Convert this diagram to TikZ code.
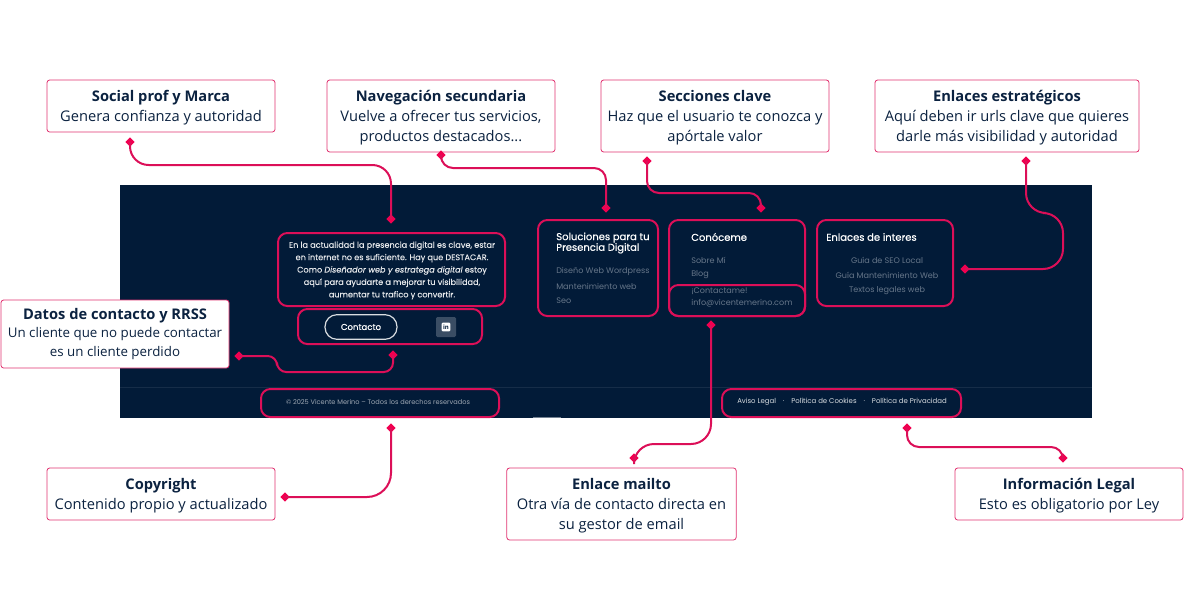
\documentclass[tikz,border=0pt]{standalone}
\usepackage{fontspec}
\setmainfont{Open Sans}
\newfontfamily\pop{Poppins}[FakeBold=0.1]
\newfontfamily\poph{Poppins}[FakeBold=0.5]
\newfontfamily\pops{Poppins}
\usetikzlibrary{shapes.geometric}
\definecolor{panel}{HTML}{021B38}
\definecolor{ink}{HTML}{0B2240}
\definecolor{pinkline}{HTML}{DC0F58}
\definecolor{pinktip}{HTML}{F00050}
\definecolor{muted}{HTML}{667689}
\newcommand{\ctitle}[1]{\rule{0pt}{11pt}\textbf{#1}}
\tikzset{
  callout/.style={draw=pinkline!85,line width=.6pt,fill=white,rounded corners=2pt,text=ink,
    align=center,inner sep=0pt,font=\fontsize{11}{15}\selectfont},
  zone/.style={draw=pinkline,line width=1.5pt,rounded corners=7pt,inner sep=0pt},
  tip/.style={diamond,fill=pinktip,inner sep=0pt,minimum size=7pt},
  link/.style={draw=pinkline,line width=1.5pt,rounded corners=14pt},
  foot/.style={text=white!90!panel,font=\pop\fontsize{6.1}{9.3}\selectfont,align=center,inner sep=0pt},
  head/.style={text=white,font=\poph\fontsize{7.5}{8}\selectfont,align=left,anchor=west,inner sep=0pt},
  soft/.style={text=muted,font=\pops\fontsize{6.05}{11.4}\selectfont,inner sep=0pt}
}
\begin{document}
\begin{tikzpicture}[x=.75pt,y=-.75pt]
  \useasboundingbox (0,0) rectangle (1200,600);
  % footer panel
  \fill[panel] (120,185) rectangle (1092,418);
  \draw[white!8!panel,line width=.6pt] (120,387) -- (1092,387);
  \fill[white!45!panel] (533,416.5) rectangle (561,418);

  % footer content
  \node[foot] (about) at (392,270.5) {En la actualidad la presencia digital es clave, estar\\
    en internet no es suficiente. Hay que DESTACAR.\\
    Como \textit{Diseñador web y estratega digital} estoy\\
    aquí para ayudarte a mejorar tu visibilidad,\\
    aumentar tu trafico y convertir.};
  \node[draw=white!85!panel,line width=.9pt,rounded corners=9pt,minimum width=54pt,minimum height=18.5pt,
    text=white,inner sep=0pt,font=\poph\fontsize{6.4}{8}\selectfont] (btn) at (361,327) {Contacto};
  \node[fill=white!22!panel,minimum size=15pt,rounded corners=1pt,inner sep=0pt] (lnk) at (446,327) {};
  \node[fill=white,rounded corners=.8pt,minimum size=6.5pt,inner sep=0pt,text=panel,
    font=\bfseries\fontsize{4.5}{5}\selectfont] (lnkin) at (lnk) {in};
  \node[foot,text=white!62!panel,font=\pops\fontsize{4.95}{6}\selectfont] (copy) at (378,402)
    {© 2025 Vicente Merino – Todos los derechos reservados};
  \node[foot,text=white!85!panel,font=\pops\fontsize{5.22}{6}\selectfont,anchor=west] (legal) at (737,402)
    {Aviso Legal\hspace{5.2pt}·\hspace{5.2pt}Política de Cookies\hspace{5.2pt}·\hspace{5.2pt}Política de Privacidad};

  \node[head] (solh) at (556,243) {Soluciones para tu\\Presencia Digital};
  \node[soft,anchor=west] (sol1) at (556,271) {Diseño Web Wordpress};
  \node[soft,anchor=west] (sol2) at (556,286) {Mantenimiento web};
  \node[soft,anchor=west] (sol3) at (556,301) {Seo};

  \node[head] (conh) at (691,237) {Conóceme};
  \node[soft,anchor=west] (con1) at (691,260) {Sobre Mí};
  \node[soft,anchor=west] (con2) at (691,275) {Blog};
  \node[soft,anchor=west] (con3) at (691,291) {¡Contactame!};
  \node[soft,anchor=west] (con4) at (691,303) {info@vicentemerino.com};

  \node[head] (enlh) at (826,237) {Enlaces de interes};
  \node[soft] (enl1) at (887,260) {Guía de SEO Local};
  \node[soft] (enl2) at (887,275) {Guía Mantenimiento Web};
  \node[soft] (enl3) at (887,291) {Textos legales web};

  % zones
  \draw[zone] (278,233) rectangle (505,306);
  \draw[zone] (298,309) rectangle (482,344);
  \draw[zone] (261,389) rectangle (499,417);
  \draw[zone] (538,220) rectangle (658,316);
  \draw[zone] (669,220) rectangle (805,316);
  \draw[zone] (669,285) rectangle (805,316);
  \draw[zone] (817,220) rectangle (953,306);
  \draw[zone] (722,389) rectangle (961,417);

  % callouts
  \node[callout,minimum width=171pt,minimum height=39pt] (social) at (161,106)
    {\ctitle{Social prof y Marca}\\Genera confianza y autoridad};
  \node[callout,minimum width=171pt,minimum height=54pt] (nav) at (441,116)
    {\ctitle{Navegación secundaria}\\Vuelve a ofrecer tus servicios,\\productos destacados...};
  \node[callout,minimum width=171pt,minimum height=54pt] (secc) at (715,116)
    {\ctitle{Secciones clave}\\Haz que el usuario te conozca y\\apórtale valor};
  \node[callout,minimum width=198pt,minimum height=54pt] (estr) at (1007,116)
    {\ctitle{Enlaces estratégicos}\\Aquí deben ir urls clave que quieres\\darle más visibilidad y autoridad};
  \node[callout,minimum width=171pt,minimum height=51pt,font=\fontsize{10}{14}\selectfont] (datos) at (115,334)
    {{\fontsize{11}{14}\selectfont\textbf{Datos de contacto y RRSS}}\\Un cliente que no puede contactar\\es un cliente perdido};
  \node[callout,minimum width=171pt,minimum height=39pt] (copyr) at (161,494)
    {\ctitle{Copyright}\\Contenido propio y actualizado};
  \node[callout,minimum width=172pt,minimum height=54pt] (mailto) at (621.5,504)
    {\ctitle{Enlace mailto}\\Otra vía de contacto directa en\\su gestor de email};
  \node[callout,minimum width=171pt,minimum height=39pt] (info) at (1069,494)
    {\ctitle{Información Legal}\\Esto es obligatorio por Ley};

  % connector ends
  \node[tip] (a1) at (130,142) {};
  \node[tip] (a2) at (391,219) {};
  \node[tip] (b1) at (441,155) {};
  \node[tip] (b2) at (606,208) {};
  \node[tip] (c1) at (647,161) {};
  \node[tip] (c2) at (761,208) {};
  \node[tip] (d1) at (1026,161) {};
  \node[tip] (d2) at (965,269) {};
  \node[tip] (e1) at (239,356) {};
  \node[tip] (e2) at (393,355) {};
  \node[tip] (f1) at (391,428) {};
  \node[tip] (f2) at (285,497) {};
  \node[tip] (g1) at (711,325) {};
  \node[tip] (g2) at (634,458) {};
  \node[tip] (h1) at (907,428) {};
  \node[tip] (h2) at (1063,458) {};

  % connectors
  \draw[link] (a1.center) -- ++(0,23) -| (a2.center);
  \draw[link,rounded corners=9pt] (b1.center) -- ++(0,13) -| (b2.center);
  \draw[link,rounded corners=9pt] (c1.center) -- ++(0,32) -| (c2.center);
  \draw[link,rounded corners=15pt] (d1.center) |- ++(37,52) |- (d2.center);
  \draw[link,rounded corners=7pt] (e1.center) -| ++(38,16) -| (e2.center);
  \draw[link,rounded corners=18pt] (f1.center) |- (f2.center);
  \draw[link,rounded corners=15pt] (g1.center) -- ++(0,119) -| (g2.center);
  \draw[link,rounded corners=9pt] (h1.center) -- ++(0,19) -| (h2.center);
\end{tikzpicture}
\end{document}
